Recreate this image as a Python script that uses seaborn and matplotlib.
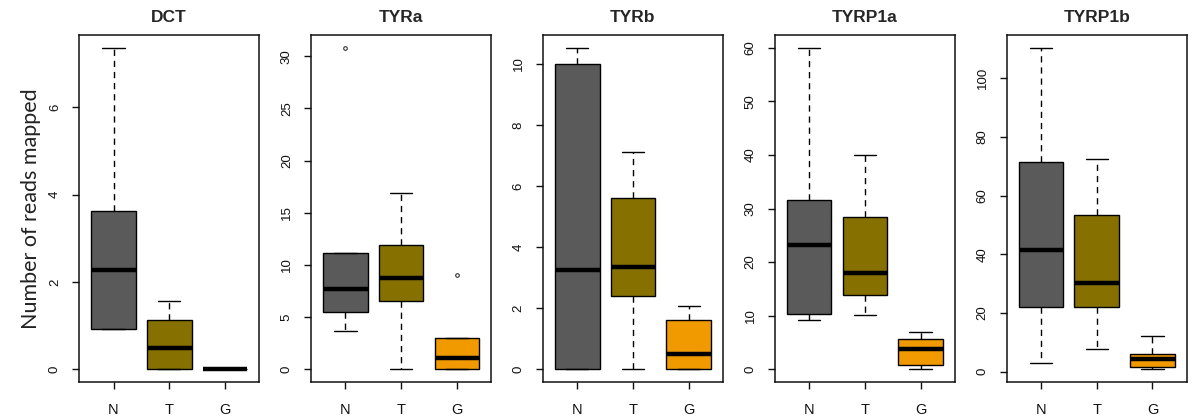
import numpy as np
import pandas as pd
import matplotlib
matplotlib.use("Agg")
import matplotlib.pyplot as plt
import seaborn as sns

# values: min, lower quartile, median, upper quartile, max (outliers as max)
genes = ["DCT", "TYRa", "TYRb", "TYRP1a", "TYRP1b"]
groups = ["N", "T", "G"]

dct_N = [0.93, 0.93, 2.27, 3.62, 7.36]
dct_T = [0.0, 0.0, 0.49, 1.12, 1.56]
dct_G = [0.0, 0.0, 0.0, 0.0, 0.0]

tyra_N = [3.70, 5.52, 7.66, 11.1, 30.8]
tyra_T = [0.0, 6.57, 8.77, 11.9, 16.9]
tyra_G = [0.0, 0.0, 1.05, 3.03, 9.0]

tyrb_N = [0.0, 0.0, 3.25, 9.98, 10.52]
tyrb_T = [0.0, 2.40, 3.35, 5.59, 7.11]
tyrb_G = [0.0, 0.0, 0.50, 1.61, 2.08]

tyrp1a_N = [9.2, 10.3, 23.1, 31.5, 60.0]
tyrp1a_T = [10.06, 13.9, 18.0, 28.5, 39.9]
tyrp1a_G = [0.0, 0.75, 3.85, 5.6, 6.9]

tyrp1b_N = [2.9, 22.2, 41.3, 71.3, 110.3]
tyrp1b_T = [7.6, 22.2, 30.4, 53.4, 72.3]
tyrp1b_G = [0.9, 1.5, 4.3, 6.2, 12.1]

values = {
    "DCT": [dct_N, dct_T, dct_G],
    "TYRa": [tyra_N, tyra_T, tyra_G],
    "TYRb": [tyrb_N, tyrb_T, tyrb_G],
    "TYRP1a": [tyrp1a_N, tyrp1a_T, tyrp1a_G],
    "TYRP1b": [tyrp1b_N, tyrp1b_T, tyrp1b_G],
}
y_steps = {"DCT": 2, "TYRa": 5, "TYRb": 2, "TYRP1a": 10, "TYRP1b": 20}

colors = {"N": "#5a5a5a", "T": "#857000", "G": "#f09a00"}

rows = []
for g in genes:
    for grp, vals in zip(groups, values[g]):
        for v in vals:
            rows.append({"gene": g, "group": grp, "reads": v})
df = pd.DataFrame(rows)

sns.set_style("white")
plt.rcParams["font.family"] = ["Liberation Sans", "DejaVu Sans"]

fig, axes = plt.subplots(1, 5, figsize=(12, 4.16), dpi=100)
fig.subplots_adjust(left=79 / 1200, right=1187 / 1200, top=1 - 35 / 416,
                    bottom=1 - 382 / 416, wspace=0.285)

for ax, g in zip(axes, genes):
    sub = df[df["gene"] == g]
    sns.boxplot(data=sub, x="group", y="reads", hue="group", order=groups,
                hue_order=groups, palette=colors, saturation=1, legend=False,
                width=0.8, whis=1.5, linecolor="black", linewidth=1, ax=ax,
                medianprops={"linewidth": 3.2, "color": "black"},
                whiskerprops={"linestyle": (0, (4.5, 3.5)), "color": "black"},
                capprops={"color": "black"},
                flierprops={"marker": "o", "markersize": 2.6, "markerfacecolor": "none",
                            "markeredgecolor": "#333333", "markeredgewidth": 0.8})
    lo, hi = sub["reads"].min(), sub["reads"].max()
    rng = hi - lo if hi > lo else 1
    ax.set_ylim(lo - 0.04 * rng, hi + 0.04 * rng)
    ax.set_xlim(-0.62, 2.62)
    ax.set_yticks(np.arange(0, hi + 1e-9, y_steps[g]))
    ax.set_title(g, fontsize=12.5, fontweight="bold", pad=9)
    ax.set_xlabel("")
    ax.set_ylabel("")
    for s in ax.spines.values():
        s.set_visible(True)
        s.set_color("#111111")
        s.set_linewidth(1.1)
    ax.tick_params(axis="y", length=5, width=1, pad=8, labelsize=9.5,
                   labelrotation=90, left=True, colors="#111111")
    ax.tick_params(axis="x", length=5, width=1, pad=10, labelsize=10.5,
                   bottom=True, colors="#111111")
    for lab in ax.get_yticklabels():
        lab.set_verticalalignment("center")

axes[0].set_ylabel("Number of reads mapped", fontsize=15.5, family=["Lato", "DejaVu Sans"],
                   color="#222222", labelpad=6)

fig.savefig("out.png", dpi=100)
